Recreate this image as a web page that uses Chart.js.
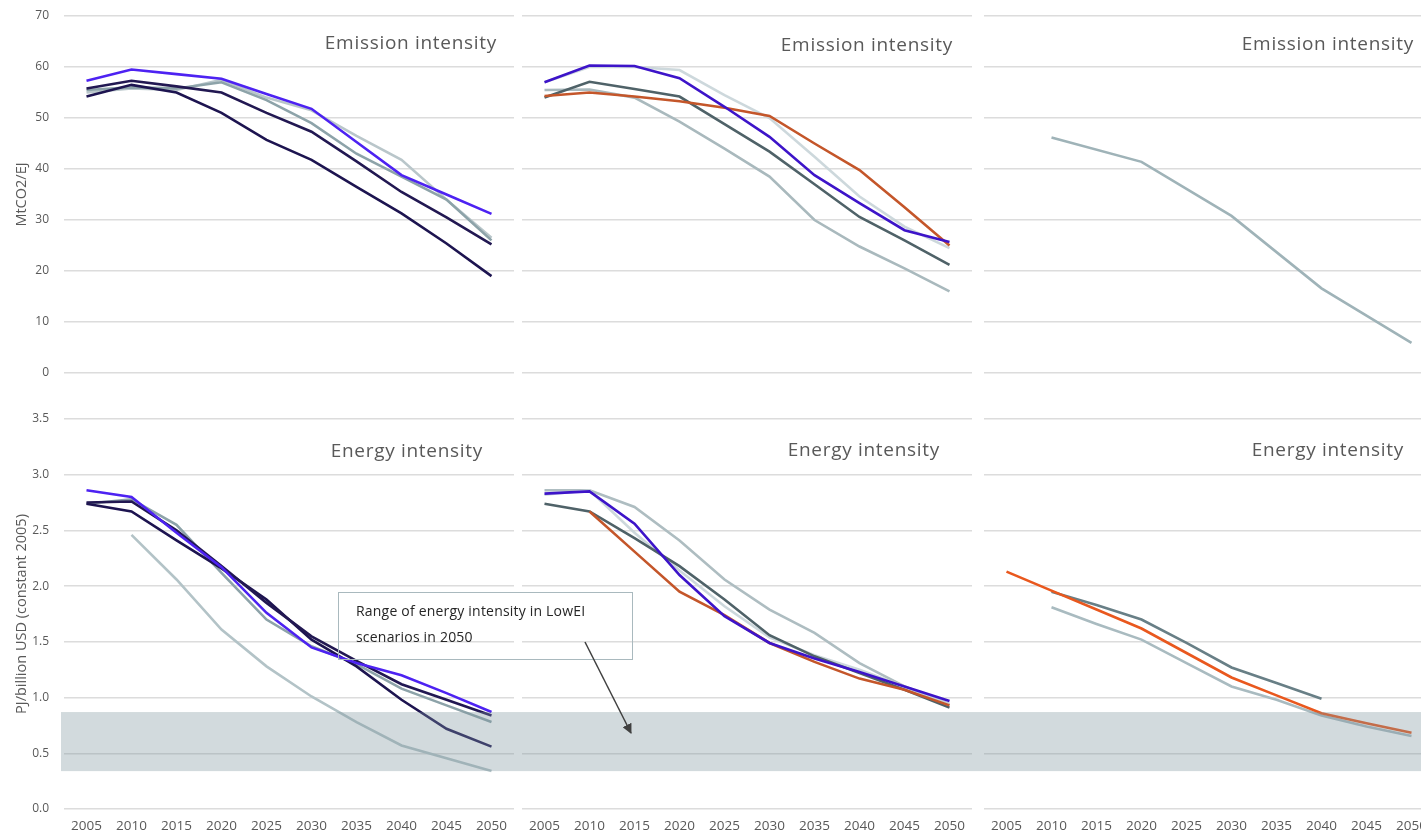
<!DOCTYPE html>
<html>
<head>
<meta charset="utf-8">
<script src="https://cdn.jsdelivr.net/npm/chart.js"></script>
<style>
  html, body { margin: 0; padding: 0; background: #fff; overflow: hidden; }
  #wrap { position: relative; width: 1421px; height: 838px; overflow: hidden; background: #fff; }
  #wrap canvas { position: absolute; }
  #note {
    position: absolute; left: 338px; top: 592px; width: 276px; height: 61px;
    border: 1px solid #a9b9be; padding: 5px 0 0 17px;
    font-family: 'Open Sans', sans-serif; font-size: 14px; line-height: 26px; color: #262626;
    letter-spacing: 0.2px; white-space: nowrap;
  }
  #arrow { position: absolute; left: 0; top: 0; pointer-events: none; }
</style>
</head>
<body>
<div id="wrap">
  <canvas id="em1" width="518" height="395" style="left:0;top:0"></canvas>
  <canvas id="em2" width="460" height="395" style="left:518px;top:0"></canvas>
  <canvas id="em3" width="470" height="395" style="left:978px;top:0"></canvas>
  <canvas id="en1" width="518" height="443" style="left:0;top:395px"></canvas>
  <canvas id="en2" width="460" height="443" style="left:518px;top:395px"></canvas>
  <canvas id="en3" width="470" height="443" style="left:978px;top:395px"></canvas>
  <div id="note">Range of energy intensity in LowEI<br>scenarios in 2050</div>
  <svg id="arrow" width="1421" height="838">
    <defs>
      <marker id="head" markerWidth="10" markerHeight="10" refX="9" refY="5" orient="auto" markerUnits="userSpaceOnUse">
        <path d="M0,0 L10,5 L0,10 z" fill="#404040"/>
      </marker>
    </defs>
    <line x1="585" y1="642" x2="631" y2="733" stroke="#404040" stroke-width="1.5" marker-end="url(#head)"/>
  </svg>
</div>
<script>
// years on the x axis
var years = ['2005','2010','2015','2020','2025','2030','2035','2040','2045','2050'];

// range of energy intensity in LowEI scenarios in 2050 (grey band)
var bandRange = [0.34, 0.87];

// emission intensity (MtCO2/EJ) - left panel
var emL_blue  = [57.3, 59.5, 58.6, 57.7, 54.7, 51.8, 45.3, 38.8, 35.0, 31.2];
var emL_navy1 = [54.2, 56.5, 55.0, 51.0, 45.7, 41.8, 36.5, 31.3, 25.4, 19.0];
var emL_navy2 = [55.8, 57.3, 56.2, 55.0, 51.0, 47.3, 41.5, 35.5, 30.5, 25.2];
var emL_grey  = [55.5, 56.0, 55.8, 57.0, 53.5, 49.0, 43.0, 38.5, 34.0, 26.0];
var emL_light = [55.0, 55.8, 55.5, 57.5, 54.0, 51.5, 46.5, 41.8, 34.0, 26.5];

// emission intensity - middle panel
var emM_orange = [54.3, 55.0, 54.2, 53.3, 52.0, 50.4, 45.0, 39.8, 32.5, 25.0];
var emM_blue   = [57.0, 60.3, 60.2, 57.8, 52.2, 46.3, 38.8, 33.3, 28.0, 25.7];
var emM_slate  = [54.0, 57.1, 55.7, 54.2, 48.8, 43.4, 37.0, 30.6, 26.0, 21.2];
var emM_grey   = [55.5, 55.6, 54.0, 49.3, 44.0, 38.5, 30.0, 24.8, 20.5, 16.0];
var emM_light  = [57.0, 60.0, 60.0, 59.4, 54.5, 50.0, 42.4, 34.6, 28.7, 24.5];

// emission intensity - right panel
var emR_light = [null, 46.2, null, 41.4, null, 30.8, null, 16.6, null, 5.9];

// energy intensity (PJ/billion USD) - left panel
var enL_blue  = [2.86, 2.80, 2.48, 2.17, 1.76, 1.45, 1.31, 1.20, 1.04, 0.87];
var enL_navy1 = [2.74, 2.67, 2.41, 2.16, 1.88, 1.52, 1.28, 0.98, 0.72, 0.56];
var enL_navy2 = [2.75, 2.76, 2.50, 2.18, 1.85, 1.55, 1.33, 1.12, 0.98, 0.84];
var enL_grey  = [2.74, 2.78, 2.55, 2.12, 1.70, 1.46, 1.30, 1.08, 0.93, 0.78];
var enL_light = [null, 2.46, 2.06, 1.61, 1.28, 1.01, 0.78, 0.57, 0.455, 0.34];

// energy intensity - middle panel
var enM_light  = [2.86, 2.86, 2.71, 2.41, 2.06, 1.79, 1.58, 1.31, 1.10, 0.94];
var enM_blue   = [2.83, 2.85, 2.56, 2.10, 1.73, 1.49, 1.35, 1.23, 1.10, 0.97];
var enM_orange = [null, 2.67, 2.31, 1.95, 1.74, 1.49, 1.32, 1.17, 1.07, 0.93];
var enM_slate  = [2.74, 2.67, 2.43, 2.18, 1.88, 1.56, 1.37, 1.22, 1.07, 0.91];
var enM_vlight = [2.82, 2.86, 2.48, 2.14, 1.82, 1.54, 1.38, 1.25, 1.10, 0.94];

// energy intensity - right panel
var enR_orange = [2.13, 1.96, 1.79, 1.62, 1.40, 1.18, 1.02, 0.86, 0.77, 0.685];
var enR_slate  = [null, 1.95, 1.83, 1.70, 1.49, 1.27, 1.13, 0.99, null, null];
var enR_light  = [null, 1.81, 1.66, 1.52, 1.31, 1.10, 0.98, 0.84, 0.74, 0.655];

Chart.defaults.font.family = "'Open Sans', sans-serif";
Chart.defaults.color = '#595959';

var gridColor = '#dcdcdc';

function line(data, color, w) {
  return { data: data, borderColor: color, borderWidth: w || 2.6, pointRadius: 0,
           fill: false, tension: 0, spanGaps: true };
}

// text label inside each panel
var panelTitle = {
  id: 'panelTitle',
  afterDraw: function(chart, args, o) {
    var ctx = chart.ctx;
    ctx.save();
    ctx.font = "19px 'Open Sans', sans-serif";
    ctx.letterSpacing = '0.7px';
    ctx.fillStyle = '#595959';
    ctx.textAlign = 'right';
    ctx.textBaseline = 'middle';
    ctx.fillText(o.text, o.x, o.y);
    ctx.restore();
  }
};

// grey band drawn over the lines
var band = {
  id: 'band',
  afterDatasetsDraw: function(chart, args, o) {
    if (!o.on) return;
    var y = chart.scales.y;
    var top = y.getPixelForValue(bandRange[1]);
    var bot = y.getPixelForValue(bandRange[0]);
    var ctx = chart.ctx;
    ctx.save();
    ctx.fillStyle = 'rgba(126,149,158,0.35)';
    var x0 = o.fromAxis ? chart.chartArea.left - 3 : 0;
    ctx.fillRect(x0, top, chart.width - x0, bot - top);
    ctx.restore();
  }
};

function makeChart(id, datasets, cfg) {
  var yAxis = {
    min: 0, max: cfg.max,
    ticks: { display: cfg.axis, stepSize: cfg.step, padding: 15, font: { size: 12 },
             callback: function(v) { return cfg.fixed ? v.toFixed(1) : v; } },
    grid: { color: gridColor, lineWidth: 1.5, drawTicks: false },
    border: { display: false },
    title: { display: cfg.axis, text: cfg.yTitle, font: { size: 14.5 }, padding: { top: 13, bottom: 0 } },
    afterFit: function(s) {
      s.width = cfg.axis ? 64 : 0;
      s.paddingTop = 0;
      s.paddingBottom = 0;
    }
  };
  var xAxis = {
    display: cfg.xLabels,
    offset: true,
    grid: { display: false, drawTicks: false },
    border: { display: false },
    ticks: { autoSkip: false, maxRotation: 0, padding: 9, font: { size: 13.5 } },
    afterFit: function(s) { s.height = cfg.xLabels ? 29 : 0; }
  };
  return new Chart(document.getElementById(id), {
    type: 'line',
    data: { labels: years, datasets: datasets },
    options: {
      responsive: false,
      animation: false,
      layout: { padding: cfg.pad },
      scales: { x: xAxis, y: yAxis },
      plugins: {
        legend: { display: false },
        tooltip: { enabled: false },
        panelTitle: { text: cfg.title, x: cfg.tx, y: cfg.ty },
        band: { on: cfg.band, fromAxis: cfg.axis }
      }
    },
    plugins: [band, panelTitle]
  });
}

var topPad = function(l, r) { return { top: 16, bottom: 22, left: l, right: r }; };
var botPad = function(l, r) { return { top: 24, bottom: 0, left: l, right: r }; };

makeChart('em1', [
  line(emL_blue, '#4d22f2'),
  line(emL_navy2, '#221852'),
  line(emL_navy1, '#1d1450'),
  line(emL_grey, '#8da3a9'),
  line(emL_light, '#b9c6ca')
], { max: 70, step: 10, axis: true, yTitle: 'MtCO2/EJ', xLabels: false,
     pad: topPad(0, 4), title: 'Emission intensity', tx: 497, ty: 44, band: false });

makeChart('em2', [
  line(emM_blue, '#3d14c9'),
  line(emM_orange, '#c4562a'),
  line(emM_slate, '#4f6268'),
  line(emM_light, 'rgba(200,212,216,0.9)'),
  line(emM_grey, '#a9b9bd')
], { max: 70, step: 10, axis: false, xLabels: false,
     pad: topPad(4, 6), title: 'Emission intensity', tx: 435, ty: 46, band: false });

makeChart('em3', [
  line(emR_light, '#9fb3b8')
], { max: 70, step: 10, axis: false, xLabels: false,
     pad: topPad(6, 14), title: 'Emission intensity', tx: 436, ty: 45, band: false });

makeChart('en1', [
  line(enL_blue, '#4d22f2'),
  line(enL_navy2, '#221852'),
  line(enL_navy1, '#1d1450'),
  line(enL_grey, '#8da3a9'),
  line(enL_light, '#b3c3c7')
], { max: 3.5, step: 0.5, fixed: true, axis: true, yTitle: 'PJ/billion USD (constant 2005)', xLabels: true,
     pad: botPad(0, 4), title: 'Energy intensity', tx: 483, ty: 57, band: true });

makeChart('en2', [
  line(enM_blue, '#3d14c9'),
  line(enM_orange, '#c4562a'),
  line(enM_slate, '#4f6268'),
  line(enM_vlight, 'rgba(200,212,216,0.9)'),
  line(enM_light, '#aebdc1')
], { max: 3.5, step: 0.5, fixed: true, axis: false, xLabels: true,
     pad: botPad(4, 6), title: 'Energy intensity', tx: 422, ty: 56, band: true });

makeChart('en3', [
  line(enR_orange, '#e9581e'),
  line(enR_slate, '#687f86'),
  line(enR_light, '#a9bbc0')
], { max: 3.5, step: 0.5, fixed: true, axis: false, xLabels: true,
     pad: botPad(6, 14), title: 'Energy intensity', tx: 426, ty: 56, band: true });
</script>
</body>
</html>
